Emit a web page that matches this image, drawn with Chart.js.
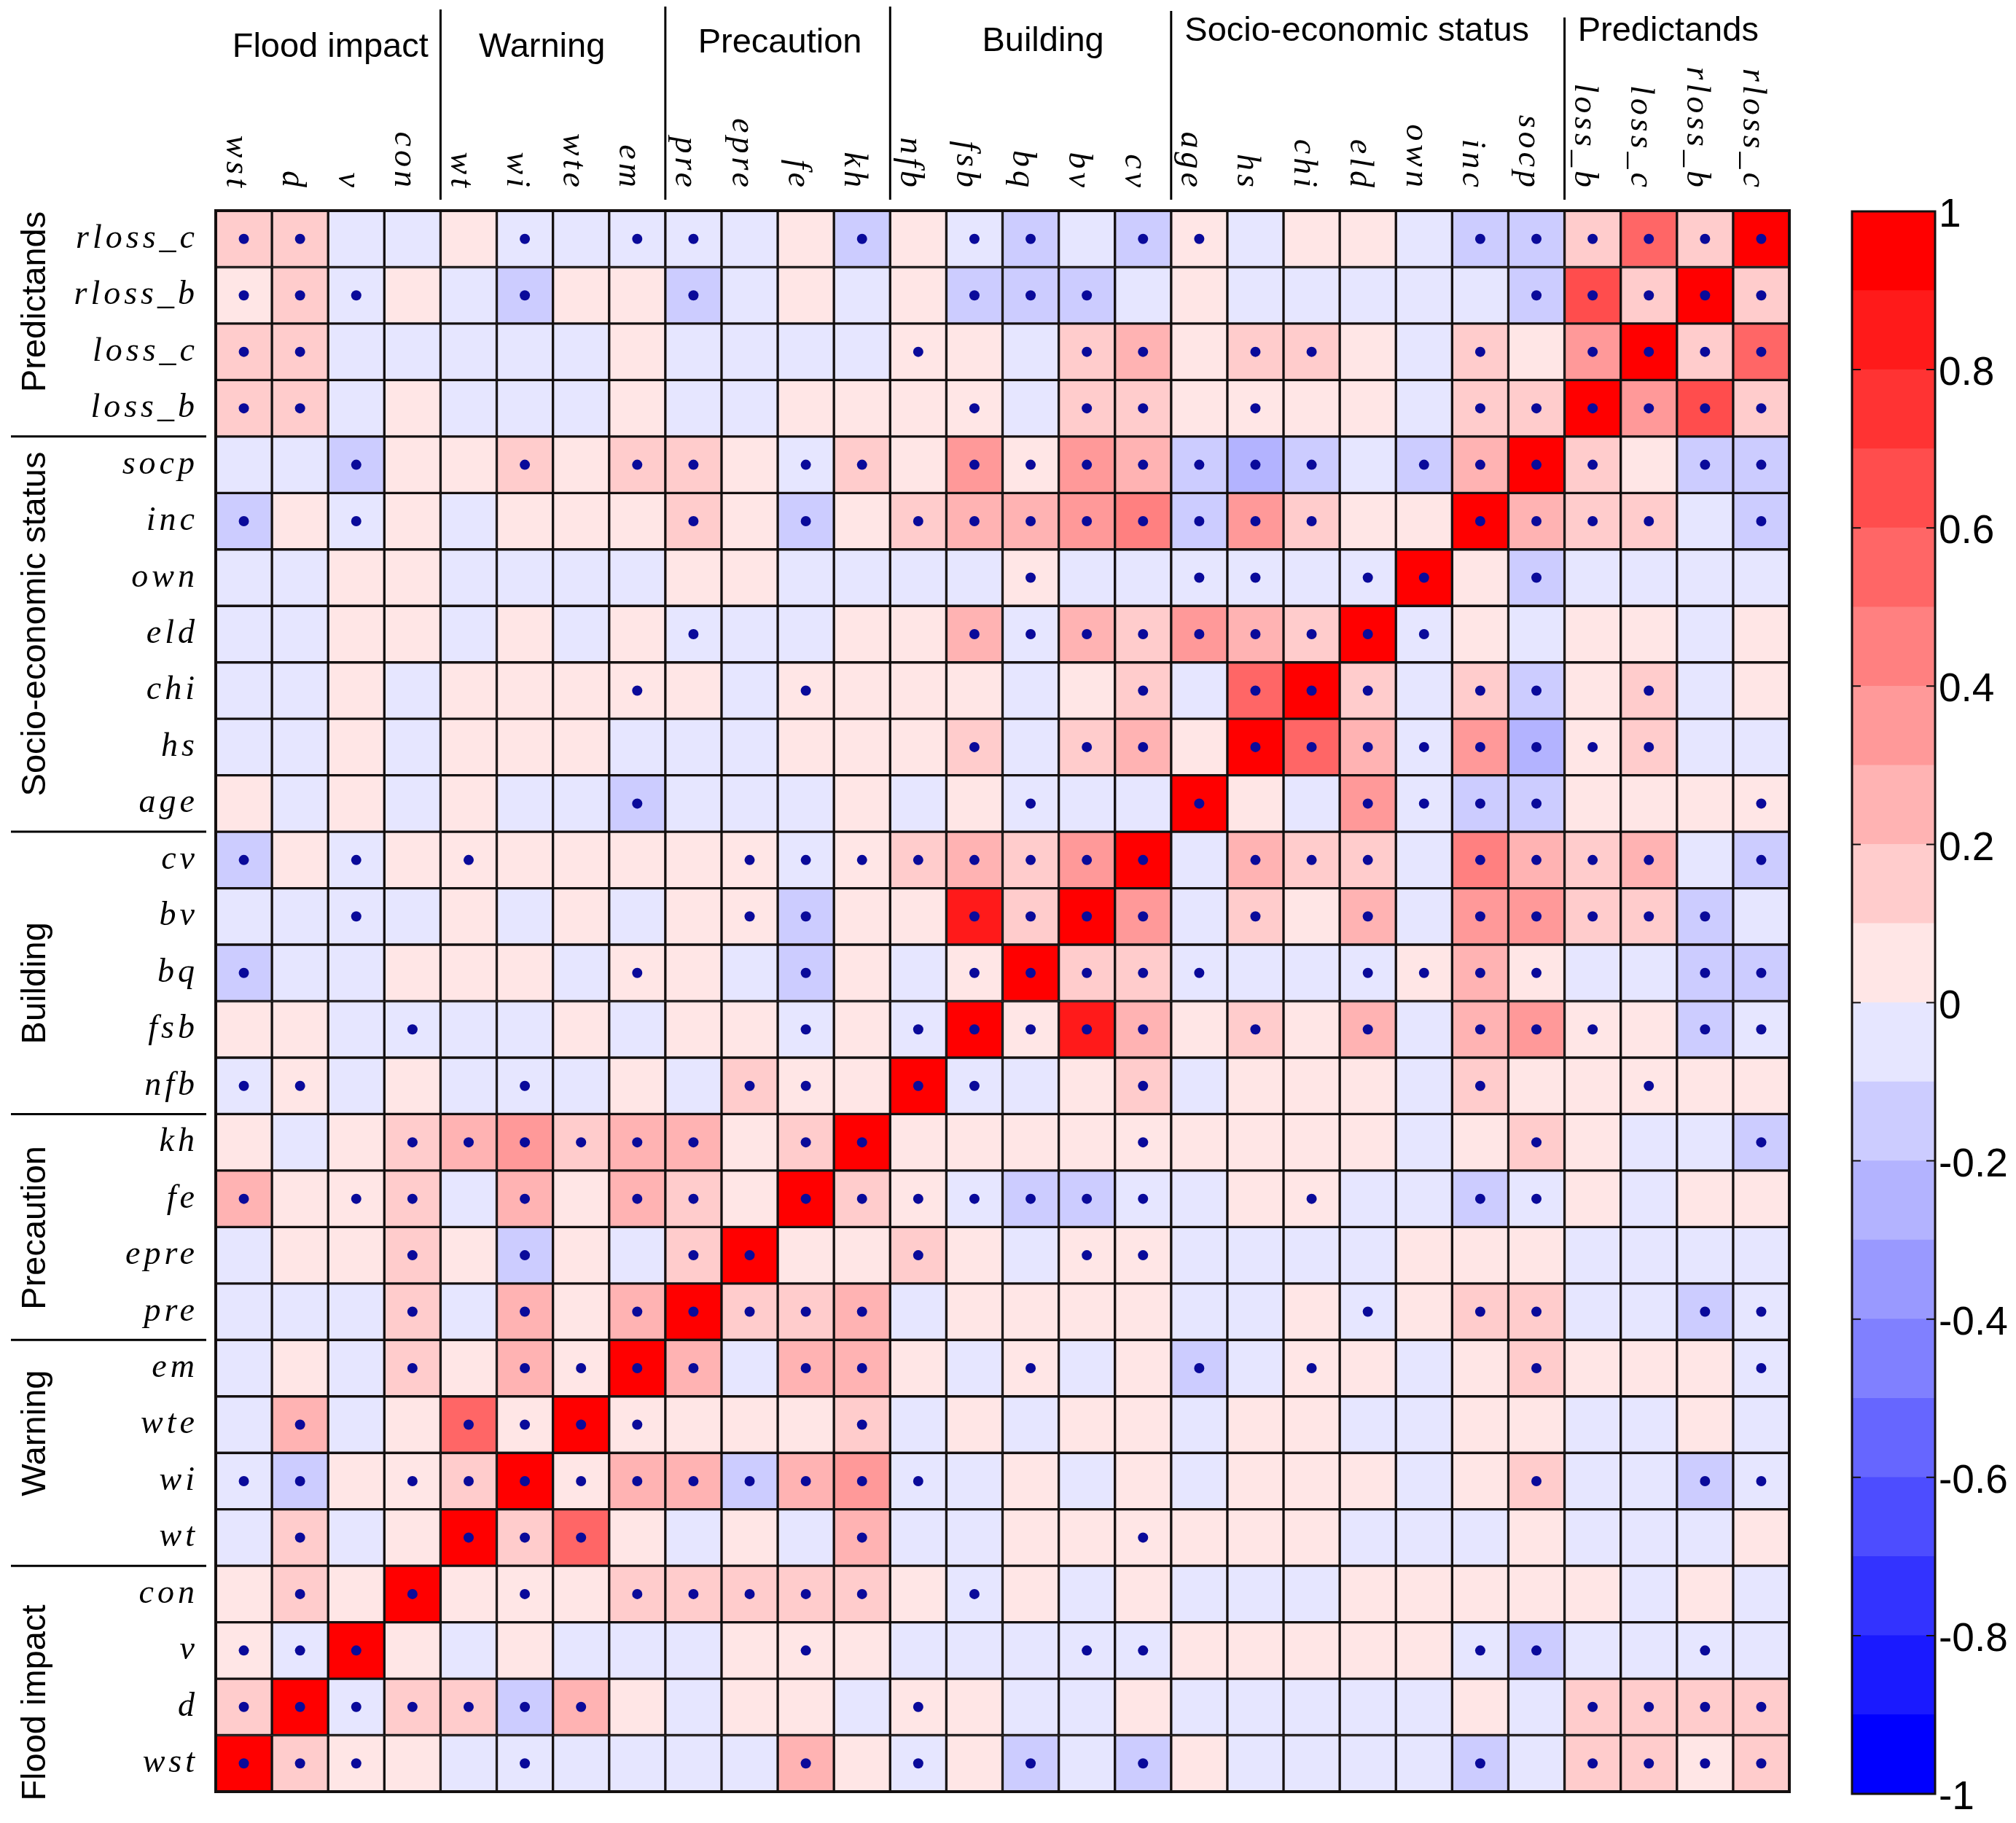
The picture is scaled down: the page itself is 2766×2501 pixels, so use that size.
<!DOCTYPE html>
<html>
<head>
<meta charset="utf-8">
<script src="https://cdn.jsdelivr.net/npm/chart.js@4.4.1/dist/chart.umd.min.js"></script>
<style>
  html, body { margin: 0; padding: 0; background: #fff; }
  #wrap { position: relative; width: 2766px; height: 2501px; }
  #matrix { position: absolute; left: 0; top: 0; }
  #bar { position: absolute; left: 2500px; top: 0; }
</style>
</head>
<body>
<div id="wrap">
  <canvas id="matrix" width="2766" height="2501"></canvas>
  <canvas id="bar" width="266" height="2501"></canvas>
</div>
<script>
// variables, bottom-left (wst) to top-right (rloss_c)
const vars = ['wst', 'd', 'v', 'con', 'wt', 'wi', 'wte', 'em', 'pre', 'epre', 'fe', 'kh', 'nfb', 'fsb',
  'bq', 'bv', 'cv', 'age', 'hs', 'chi', 'eld', 'own', 'inc', 'socp', 'loss_b', 'loss_c', 'rloss_b', 'rloss_c'];

const groupNames = ['Flood impact', 'Warning', 'Precaution', 'Building', 'Socio-economic status', 'Predictands'];
const groupFirst = [0, 4, 8, 12, 17, 24];
const groupLast = [3, 7, 11, 16, 23, 27];

// lower triangle of the correlation matrix, row i holds columns 0..i-1
const corrLower = [
  [],
  [0.15],
  [0.05, -0.05],
  [0.05, 0.15, 0.05],
  [-0.05, 0.15, -0.05, 0.05],
  [-0.05, -0.15, 0.05, 0.05, 0.15],
  [-0.05, 0.25, -0.05, 0.05, 0.55, 0.05],
  [-0.05, 0.05, -0.05, 0.15, 0.05, 0.25, 0.05],
  [-0.05, -0.05, -0.05, 0.15, -0.05, 0.25, 0.05, 0.25],
  [-0.05, 0.05, 0.05, 0.15, 0.05, -0.15, 0.05, -0.05, 0.15],
  [0.25, 0.05, 0.05, 0.15, -0.05, 0.25, 0.05, 0.25, 0.15, 0.05],
  [0.05, -0.05, 0.05, 0.15, 0.25, 0.35, 0.15, 0.25, 0.25, 0.05, 0.15],
  [-0.05, 0.05, -0.05, 0.05, -0.05, -0.05, -0.05, 0.05, -0.05, 0.15, 0.05, 0.05],
  [0.05, 0.05, -0.05, -0.05, -0.05, -0.05, 0.05, -0.05, 0.05, 0.05, -0.05, 0.05, -0.05],
  [-0.15, -0.05, -0.05, 0.05, 0.05, 0.05, -0.05, 0.05, 0.05, -0.05, -0.15, 0.05, -0.05, 0.05],
  [-0.05, -0.05, -0.05, -0.05, 0.05, -0.05, 0.05, -0.05, 0.05, 0.05, -0.15, 0.05, 0.05, 0.85, 0.15],
  [-0.15, 0.05, -0.05, 0.05, 0.05, 0.05, 0.05, 0.05, 0.05, 0.05, -0.05, 0.05, 0.15, 0.25, 0.15, 0.35],
  [0.05, -0.05, 0.05, -0.05, 0.05, -0.05, -0.05, -0.15, -0.05, -0.05, -0.05, 0.05, -0.05, 0.05, -0.05, -0.05, -0.05],
  [-0.05, -0.05, 0.05, -0.05, 0.05, 0.05, 0.05, -0.05, -0.05, -0.05, 0.05, 0.05, 0.05, 0.15, -0.05, 0.12, 0.25, 0.05],
  [-0.05, -0.05, 0.05, -0.05, 0.05, 0.05, 0.05, 0.05, 0.05, -0.05, 0.05, 0.05, 0.05, 0.05, -0.05, 0.05, 0.15, -0.05, 0.5],
  [-0.05, -0.05, 0.05, 0.05, -0.05, 0.05, -0.05, 0.05, -0.05, -0.05, -0.05, 0.05, 0.05, 0.25, -0.05, 0.25, 0.15, 0.35, 0.25, 0.15],
  [-0.05, -0.05, 0.05, 0.05, -0.05, -0.05, -0.05, -0.05, 0.05, 0.05, -0.05, -0.05, -0.05, -0.05, 0.05, -0.05, -0.05, -0.05, -0.05, -0.05, -0.05],
  [-0.15, 0.05, -0.05, 0.05, -0.05, 0.05, 0.05, 0.05, 0.15, 0.05, -0.15, 0.05, 0.15, 0.25, 0.25, 0.35, 0.45, -0.15, 0.35, 0.15, 0.05, 0.05],
  [-0.05, -0.05, -0.15, 0.05, 0.05, 0.15, 0.05, 0.15, 0.15, 0.05, -0.05, 0.15, 0.05, 0.35, 0.05, 0.35, 0.25, -0.15, -0.25, -0.15, -0.05, -0.15, 0.25],
  [0.15, 0.15, -0.05, 0.05, -0.05, -0.05, -0.05, 0.05, -0.05, -0.05, 0.05, 0.05, 0.05, 0.05, -0.05, 0.15, 0.15, 0.05, 0.05, 0.05, 0.05, -0.05, 0.15, 0.15],
  [0.15, 0.15, -0.05, -0.05, -0.05, -0.05, -0.05, 0.05, -0.05, -0.05, -0.05, -0.05, 0.05, 0.05, -0.05, 0.15, 0.25, 0.05, 0.15, 0.15, 0.05, -0.05, 0.15, 0.05, 0.35],
  [0.05, 0.15, -0.05, 0.05, -0.05, -0.15, 0.05, 0.05, -0.15, -0.05, 0.05, -0.05, 0.05, -0.15, -0.15, -0.15, -0.05, 0.05, -0.05, -0.05, -0.05, -0.05, -0.05, -0.15, 0.65, 0.15],
  [0.15, 0.15, -0.05, -0.05, 0.05, -0.05, -0.05, -0.05, -0.05, -0.05, 0.05, -0.15, 0.05, -0.05, -0.15, -0.05, -0.15, 0.05, -0.05, 0.05, 0.05, -0.05, -0.15, -0.15, 0.15, 0.55, 0.15]
];

// significance markers, same layout (1 = dot)
const sigLower = [
  [],
  [1],
  [1, 1],
  [0, 1, 0],
  [0, 1, 0, 0],
  [1, 1, 0, 1, 1],
  [0, 1, 0, 0, 1, 1],
  [0, 0, 0, 1, 0, 1, 1],
  [0, 0, 0, 1, 0, 1, 0, 1],
  [0, 0, 0, 1, 0, 1, 0, 0, 1],
  [1, 0, 1, 1, 0, 1, 0, 1, 1, 0],
  [0, 0, 0, 1, 1, 1, 1, 1, 1, 0, 1],
  [1, 1, 0, 0, 0, 1, 0, 0, 0, 1, 1, 0],
  [0, 0, 0, 1, 0, 0, 0, 0, 0, 0, 1, 0, 1],
  [1, 0, 0, 0, 0, 0, 0, 1, 0, 0, 1, 0, 0, 1],
  [0, 0, 1, 0, 0, 0, 0, 0, 0, 1, 1, 0, 0, 1, 1],
  [1, 0, 1, 0, 1, 0, 0, 0, 0, 1, 1, 1, 1, 1, 1, 1],
  [0, 0, 0, 0, 0, 0, 0, 1, 0, 0, 0, 0, 0, 0, 1, 0, 0],
  [0, 0, 0, 0, 0, 0, 0, 0, 0, 0, 0, 0, 0, 1, 0, 1, 1, 0],
  [0, 0, 0, 0, 0, 0, 0, 1, 0, 0, 1, 0, 0, 0, 0, 0, 1, 0, 1],
  [0, 0, 0, 0, 0, 0, 0, 0, 1, 0, 0, 0, 0, 1, 1, 1, 1, 1, 1, 1],
  [0, 0, 0, 0, 0, 0, 0, 0, 0, 0, 0, 0, 0, 0, 1, 0, 0, 1, 1, 0, 1],
  [1, 0, 1, 0, 0, 0, 0, 0, 1, 0, 1, 0, 1, 1, 1, 1, 1, 1, 1, 1, 0, 0],
  [0, 0, 1, 0, 0, 1, 0, 1, 1, 0, 1, 1, 0, 1, 1, 1, 1, 1, 1, 1, 0, 1, 1],
  [1, 1, 0, 0, 0, 0, 0, 0, 0, 0, 0, 0, 0, 1, 0, 1, 1, 0, 1, 0, 0, 0, 1, 1],
  [1, 1, 0, 0, 0, 0, 0, 0, 0, 0, 0, 0, 1, 0, 0, 1, 1, 0, 1, 1, 0, 0, 1, 0, 1],
  [1, 1, 1, 0, 0, 1, 0, 0, 1, 0, 0, 0, 0, 1, 1, 1, 0, 0, 0, 0, 0, 0, 0, 1, 1, 1],
  [1, 1, 0, 0, 0, 1, 0, 1, 1, 0, 0, 1, 0, 1, 1, 0, 1, 1, 0, 0, 0, 0, 1, 1, 1, 1, 1]
];

// colour bar
const barEdges = [-1, -0.9, -0.8, -0.7, -0.6, -0.5, -0.4, -0.3, -0.2, -0.1, 0, 0.1, 0.2, 0.3, 0.4, 0.5, 0.6, 0.7, 0.8, 0.9, 1];
const barTicks = [-1, -0.8, -0.6, -0.4, -0.2, 0, 0.2, 0.4, 0.6, 0.8, 1];

// label placement tweaks (pixels)
const topLabelDx = [3, -15, 3, 17, -15, -12];
const topLabelBase = [78, 78, 72, 70, 56, 56];
const topLineTop = [13, 9, 9, 15, 24];
const leftLabelDy = [33, -27, 1, 14, -14, -30];

function corrAt(i, j) {
  if (i === j) return 1;
  return i > j ? corrLower[i][j] : corrLower[j][i];
}
function sigAt(i, j) {
  if (i === j) return 1;
  return i > j ? sigLower[i][j] : sigLower[j][i];
}
// 20-step blue-white-red map
function corrColor(v) {
  const k = Math.min(9, Math.floor(Math.abs(v) * 10 + 1e-9));
  const c = Math.round(25.5 * (9 - k));
  return v >= 0 ? `rgb(255,${c},${c})` : `rgb(${c},${c},255)`;
}

const cellSets = vars.map((rowName, i) => ({
  type: 'bar',
  label: rowName,
  data: vars.map(() => [i, i + 1]),
  backgroundColor: vars.map((_, j) => corrColor(corrAt(i, j))),
  borderColor: '#141010',
  borderWidth: 2,
  borderSkipped: false,
  grouped: false,
  categoryPercentage: 1,
  barPercentage: 1,
  order: 1
}));

const dotPoints = [];
vars.forEach((rowName, i) => {
  vars.forEach((colName, j) => {
    if (sigAt(i, j)) dotPoints.push({ x: colName, y: i + 0.5 });
  });
});

const matrixDecor = {
  id: 'matrixDecor',
  afterDraw(chart) {
    const { ctx, chartArea: a, scales: { x, y } } = chart;
    ctx.save();
    ctx.strokeStyle = '#141010';
    ctx.lineWidth = 4;
    ctx.strokeRect(a.left, a.top, a.right - a.left, a.bottom - a.top);

    // variable names
    ctx.fillStyle = '#000';
    ctx.font = 'italic 46px "Liberation Serif", "Times New Roman", serif';
    ctx.letterSpacing = '5px';
    ctx.textAlign = 'right';
    ctx.textBaseline = 'alphabetic';
    vars.forEach((name, i) => {
      ctx.fillText(name, a.left - 24, y.getPixelForValue(i + 0.5) + 12);
    });
    vars.forEach((name, j) => {
      ctx.save();
      ctx.translate(x.getPixelForValue(j) - 24, a.top - 27);
      ctx.rotate(Math.PI / 2);
      ctx.fillText(name, 0, 0);
      ctx.restore();
    });

    // group names and separators
    ctx.letterSpacing = '0px';
    ctx.font = '47px "Liberation Sans", Arial, sans-serif';
    ctx.textAlign = 'center';
    ctx.strokeStyle = '#000';
    ctx.lineWidth = 3;
    groupNames.forEach((g, k) => {
      const cx = (x.getPixelForValue(groupFirst[k]) + x.getPixelForValue(groupLast[k])) / 2 + topLabelDx[k];
      ctx.fillText(g, cx, topLabelBase[k]);
      const cy = (y.getPixelForValue(groupFirst[k]) + y.getPixelForValue(groupLast[k] + 1)) / 2 + leftLabelDy[k];
      ctx.save();
      ctx.translate(62, cy);
      ctx.rotate(-Math.PI / 2);
      ctx.fillText(g, 0, 0);
      ctx.restore();
      if (k > 0) {
        const bx = (x.getPixelForValue(groupFirst[k] - 1) + x.getPixelForValue(groupFirst[k])) / 2;
        ctx.beginPath();
        ctx.moveTo(bx, topLineTop[k - 1]);
        ctx.lineTo(bx, a.top - 15);
        ctx.stroke();
        const by = y.getPixelForValue(groupFirst[k]);
        ctx.beginPath();
        ctx.moveTo(15, by);
        ctx.lineTo(a.left - 13, by);
        ctx.stroke();
      }
    });
    ctx.restore();
  }
};

new Chart(document.getElementById('matrix'), {
  type: 'bar',
  data: {
    labels: vars,
    datasets: [
      ...cellSets,
      {
        type: 'line',
        label: 'significant',
        data: dotPoints,
        showLine: false,
        pointRadius: 7,
        pointStyle: 'circle',
        pointBackgroundColor: '#0a0a9a',
        pointBorderWidth: 0,
        order: 0
      }
    ]
  },
  options: {
    responsive: false,
    devicePixelRatio: 1,
    animation: false,
    events: [],
    layout: { padding: { left: 296, top: 289, right: 311, bottom: 43 } },
    plugins: { legend: { display: false }, tooltip: { enabled: false } },
    scales: {
      x: { type: 'category', display: false, offset: true },
      y: { type: 'linear', display: false, min: 0, max: vars.length }
    }
  },
  plugins: [matrixDecor]
});

// colour bar chart
const barFrame = {
  id: 'barFrame',
  afterDraw(chart) {
    const { ctx, chartArea: a, scales: { y } } = chart;
    ctx.save();
    ctx.strokeStyle = '#141010';
    ctx.lineWidth = 3;
    ctx.strokeRect(a.left, a.top, a.right - a.left, a.bottom - a.top);
    ctx.lineWidth = 2;
    barTicks.forEach(t => {
      const py = y.getPixelForValue(t);
      ctx.beginPath();
      ctx.moveTo(a.left, py); ctx.lineTo(a.left + 12, py);
      ctx.moveTo(a.right, py); ctx.lineTo(a.right - 12, py);
      ctx.stroke();
    });
    ctx.restore();
  }
};

new Chart(document.getElementById('bar'), {
  type: 'bar',
  data: {
    labels: [''],
    datasets: barEdges.slice(0, -1).map((lo, k) => ({
      data: [[lo, barEdges[k + 1]]],
      backgroundColor: corrColor((lo + barEdges[k + 1]) / 2),
      borderWidth: 0,
      grouped: false,
      categoryPercentage: 1,
      barPercentage: 1
    }))
  },
  options: {
    responsive: false,
    devicePixelRatio: 1,
    animation: false,
    events: [],
    layout: { padding: { left: 41, top: 290, right: 11, bottom: 40 } },
    plugins: { legend: { display: false }, tooltip: { enabled: false } },
    scales: {
      x: { display: false, offset: true },
      y: {
        position: 'right',
        min: -1,
        max: 1,
        grid: { display: false, drawTicks: false },
        border: { display: false },
        afterBuildTicks: scale => { scale.ticks = barTicks.map(v => ({ value: v })); },
        afterFit: scale => { scale.width = 100; },
        ticks: {
          padding: 5,
          labelOffset: 6,
          color: '#000',
          font: { family: '"Liberation Sans", Arial, sans-serif', size: 55 },
          callback: v => String(Math.round(v * 10) / 10)
        }
      }
    }
  },
  plugins: [barFrame]
});
</script>
</body>
</html>
